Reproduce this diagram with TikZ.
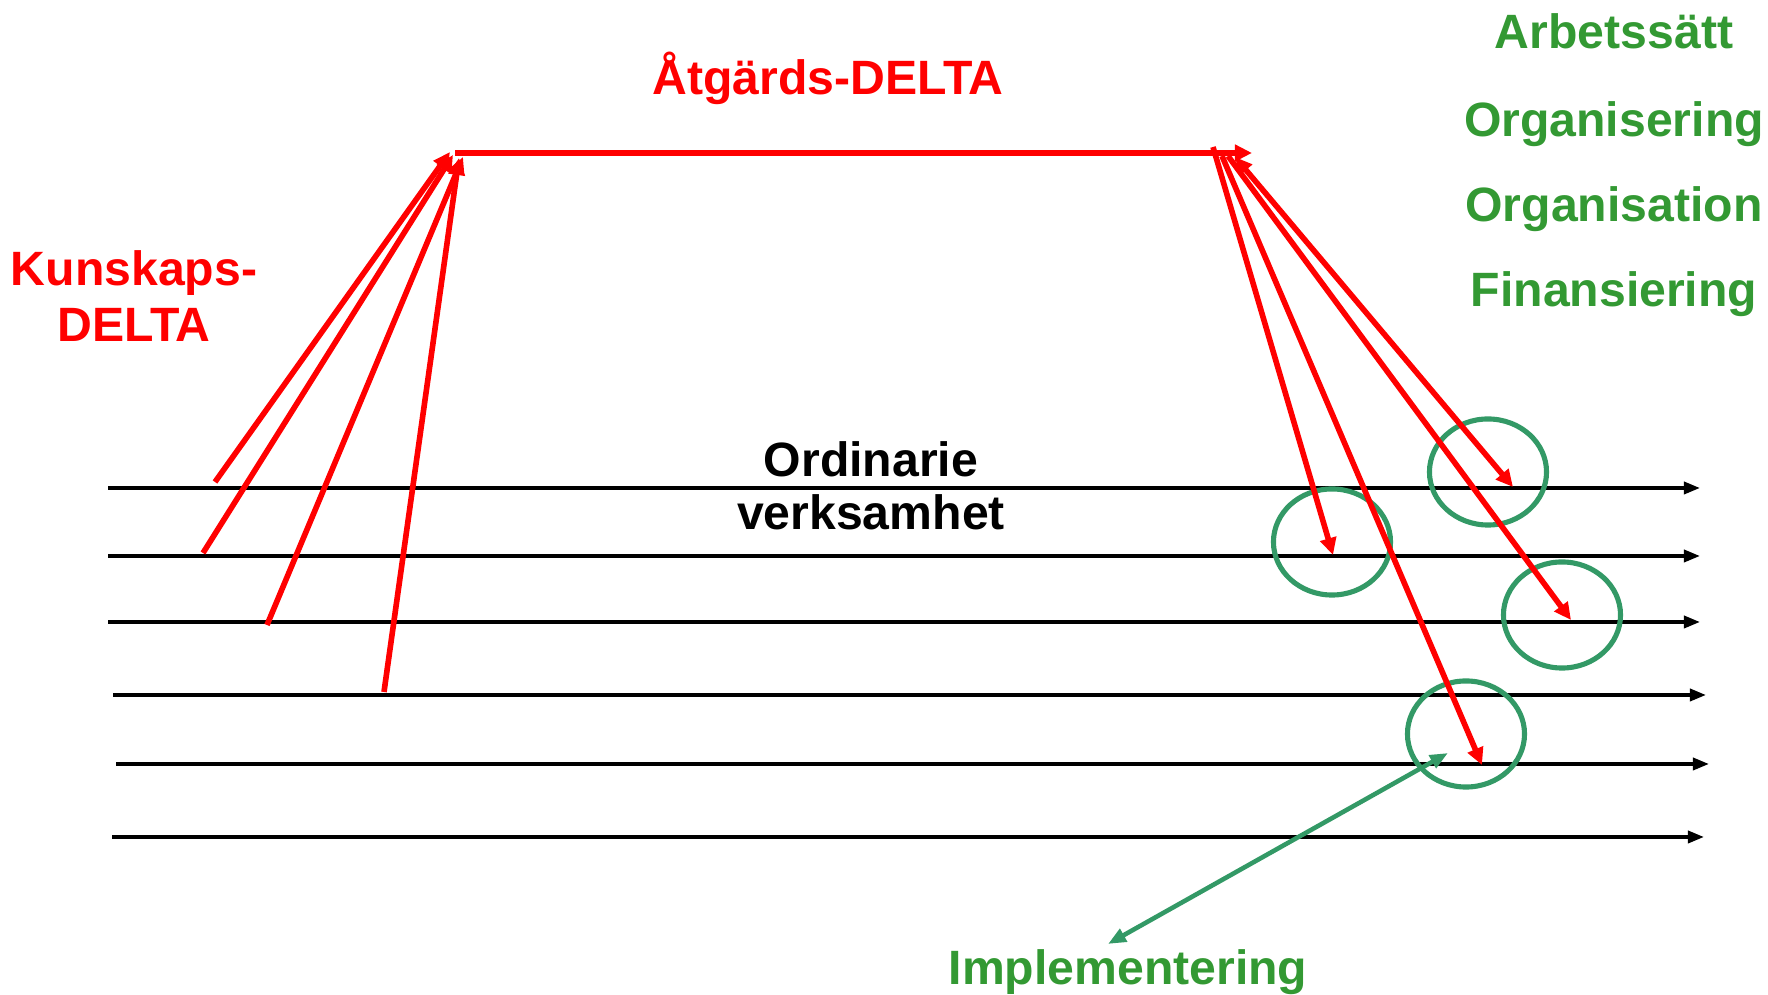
\documentclass[tikz,border=0pt]{standalone}
\usepackage{fontspec}
\setmainfont{Liberation Sans}
\usetikzlibrary{arrows.meta,shapes.geometric}
\definecolor{deltared}{RGB}{255,0,0}
\definecolor{txtgreen}{RGB}{51,153,51}
\definecolor{ringgreen}{RGB}{51,153,102}

\begin{document}
\begin{tikzpicture}[
        x=0.01cm, y=-0.01cm,
        lbl/.style={font=\fontsize{13.7}{16.2}\selectfont\bfseries, inner sep=0pt, anchor=base, align=center},
        flow/.style={-{Triangle[length=0.16cm, width=0.12cm]}, line width=1pt, black},
        delta/.style={-{Triangle[length=0.17cm, width=0.16cm]}, line width=1.6pt, deltared},
        both/.style={{Triangle[length=0.17cm, width=0.16cm]}-{Triangle[length=0.17cm, width=0.16cm]}, line width=1.6pt, deltared},
        ring/.style={ellipse, draw=ringgreen, line width=1.45pt, minimum width=1.17cm, minimum height=1.06cm, inner sep=0pt},
        impl/.style={{Triangle[length=0.18cm, width=0.14cm]}-{Triangle[length=0.18cm, width=0.14cm]}, line width=1.3pt, ringgreen}
    ]
    \useasboundingbox (0,0) rectangle (1768,995);

    % labels
    \node[lbl, text=deltared] (atg) at (828,95) {Åtgärds-DELTA};
    \node[lbl, text=deltared] (kun) at (134,342) {Kunskaps-\\DELTA};
    \node[lbl] (ord) at (871,530) {Ordinarie\\[-1.1pt]verksamhet};
    \node[lbl, text=txtgreen] (arb) at (1614,49) {Arbetssätt};
    \node[lbl, text=txtgreen] (orgi) at (1614,137) {Organisering};
    \node[lbl, text=txtgreen] (orga) at (1614,222) {Organisation};
    \node[lbl, text=txtgreen] (fin) at (1614,307) {Finansiering};
    \node[lbl, text=txtgreen] (imp) at (1128,985) {Implementering};

    % ordinary activity lines
    \coordinate (o1s) at (108,488); \coordinate (o1e) at (1700,488);
    \coordinate (o2s) at (108,556); \coordinate (o2e) at (1700,556);
    \coordinate (o3s) at (108,622); \coordinate (o3e) at (1700,622);
    \coordinate (o4s) at (113,695); \coordinate (o4e) at (1706,695);
    \coordinate (o5s) at (116,764); \coordinate (o5e) at (1709,764);
    \coordinate (o6s) at (112,837); \coordinate (o6e) at (1704,837);
    \draw[flow] (o1s) -- (o1e);
    \draw[flow] (o2s) -- (o2e);
    \draw[flow] (o3s) -- (o3e);
    \draw[flow] (o4s) -- (o4e);
    \draw[flow] (o5s) -- (o5e);
    \draw[flow] (o6s) -- (o6e);

    % knowledge delta
    \coordinate (k1) at (215,482);
    \coordinate (k2) at (203,553);
    \coordinate (k3) at (267,625);
    \coordinate (k4) at (384,692);
    \coordinate (t1) at (450,152);
    \coordinate (t2) at (453,155);
    \coordinate (t3) at (463,157);
    \coordinate (t4) at (459,158);
    \draw[delta] (k1) -- (t1);
    \draw[delta] (k2) -- (t2);
    \draw[delta] (k3) -- (t3);
    \draw[delta] (k4) -- (t4);

    % action delta
    \coordinate (aL) at (455,153);
    \coordinate (aR) at (1252,153);
    \draw[delta] (aL) -- (aR);

    % rings
    \node[ring] (c1) at (1332,542) {};
    \node[ring] (c2) at (1488,472) {};
    \node[ring] (c3) at (1562,615) {};
    \node[ring] (c4) at (1466,734) {};

    \coordinate (r1) at (1213,147);
    \coordinate (r2) at (1222,156);
    \coordinate (r3) at (1228,156);
    \coordinate (r4) at (1235,157);
    \coordinate (h1) at (1333,555);
    \coordinate (h2) at (1482,765);
    \coordinate (h3) at (1571,620);
    \coordinate (h4) at (1513,487);
    \draw[delta] (r1) -- (h1);
    \draw[delta] (r2) -- (h2);
    \draw[delta] (r3) -- (h3);
    \draw[both] (r4) -- (h4);

    % implementation
    \coordinate (i1) at (1108,944);
    \coordinate (i2) at (1448,753);
    \draw[impl] (i1) -- (i2);

\end{tikzpicture}
\end{document}
